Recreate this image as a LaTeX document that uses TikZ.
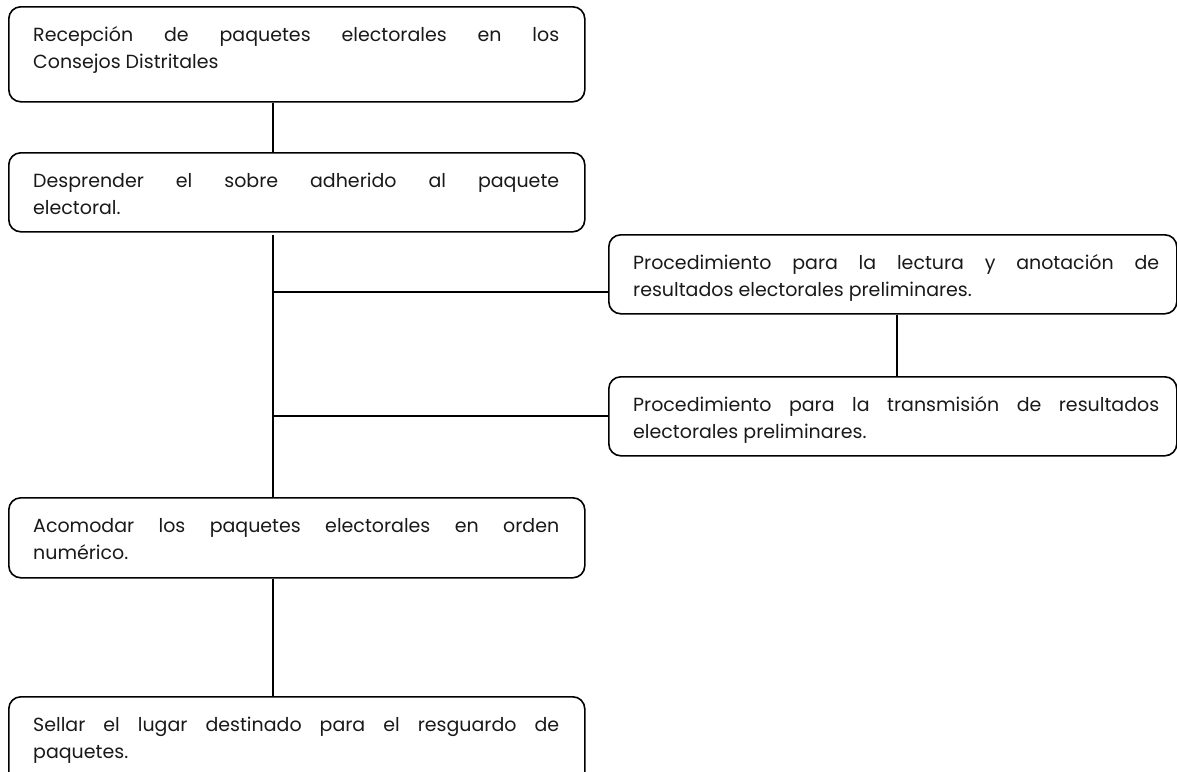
\documentclass[tikz,border=0pt]{standalone}
\usepackage{fontspec}
\setmainfont{Poppins}
\usetikzlibrary{calc}
\tikzset{
  flowbox/.style={draw, line width=1.6pt, rounded corners=12pt, inner sep=0pt, anchor=north west},
  flowtxt/.style={inner sep=0pt, anchor=base west, text=black!90},
  link/.style={line width=1.6pt},
}
\newcommand{\boxtext}[1]{\parbox[t]{526pt}{\fontsize{19}{27}\selectfont\tolerance=10000\hyphenpenalty=10000\relax #1}}
\begin{document}
\begin{tikzpicture}[x=1pt,y=-1pt]
\useasboundingbox (0,0) rectangle (1177,771);
\clip (0,0) rectangle (1177,771);
% boxes
\node[flowbox, minimum width=576pt, minimum height=95pt] (b1) at (8,6) {};
\node[flowbox, minimum width=576pt, minimum height=79pt] (b2) at (8,152) {};
\node[flowbox, minimum width=568pt, minimum height=79pt] (b3) at (608,234) {};
\node[flowbox, minimum width=568pt, minimum height=79pt] (b4) at (608,376) {};
\node[flowbox, minimum width=576pt, minimum height=80pt] (b5) at (8,497) {};
\node[flowbox, minimum width=576pt, minimum height=110pt] (b6) at (8,696) {};
% texts
\node[flowtxt] (t1) at (33,41) {\boxtext{Recepción de paquetes electorales en los\linebreak Consejos Distritales}};
\node[flowtxt] (t2) at (33,187) {\boxtext{Desprender el sobre adherido al paquete\linebreak electoral.}};
\node[flowtxt] (t3) at (633,269) {\boxtext{Procedimiento para la lectura y anotación de\linebreak resultados electorales preliminares.}};
\node[flowtxt] (t4) at (633,411) {\boxtext{Procedimiento para la transmisión de resultados\linebreak electorales preliminares.}};
\node[flowtxt] (t5) at (33,532) {\boxtext{Acomodar los paquetes electorales en orden\linebreak numérico.}};
\node[flowtxt] (t6) at (33,731) {\boxtext{Sellar el lugar destinado para el resguardo de\linebreak paquetes.}};
% connector coordinates
\coordinate (tx) at (273,0);
\coordinate (cx) at (897,0);
\coordinate (s2) at (273,235);
\coordinate (j1) at (273,292);
\coordinate (j2) at (273,416);
% connectors
\draw[link] (b1.south -| tx) -- (b2.north -| tx);
\draw[link] (s2) -- (b5.north -| tx);
\draw[link] (j1) -- (j1 -| b3.west);
\draw[link] (j2) -- (j2 -| b4.west);
\draw[link] (b3.south -| cx) -- (b4.north -| cx);
\draw[link] (b5.south -| tx) -- (b6.north -| tx);
\end{tikzpicture}
\end{document}
